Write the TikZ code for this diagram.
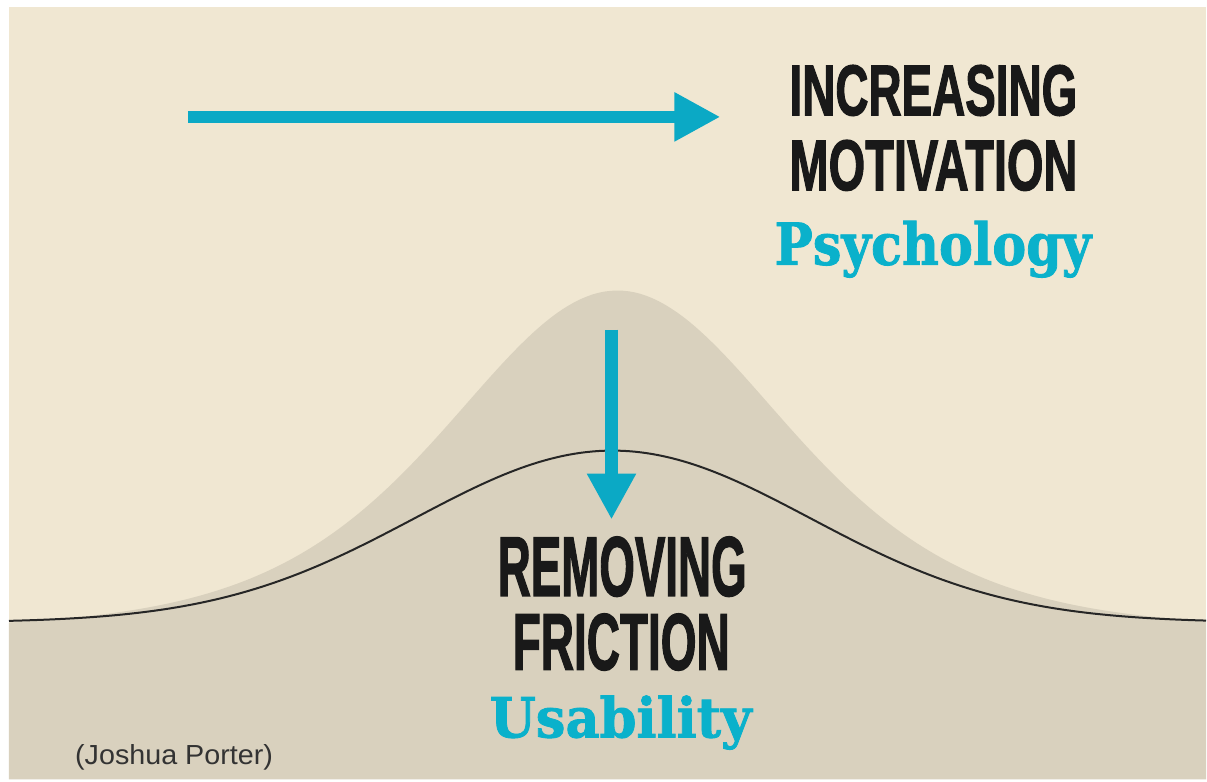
\documentclass[tikz,border=0pt]{standalone}
\usepackage{fontspec}
\usepackage{xcolor}
\usepackage{graphicx}
\usetikzlibrary{math,arrows.meta}
\newfontfamily\gothicfont[FakeBold=2]{Liberation Sans}
\newfontfamily\slabfont[FakeBold=1.5]{DejaVu Serif}
\newfontfamily\creditfont{Liberation Sans}
\definecolor{paper}{HTML}{F0E7D2}
\definecolor{sand}{HTML}{D9D1BE}
\definecolor{porterblue}{HTML}{0BA9C5}
\tikzset{
	headline/.style={inner sep=0pt,anchor=north west,text=black!90},
	tagline/.style={inner sep=0pt,anchor=base west,text=porterblue!90!cyan},
	bigarrow/.style={porterblue,-{Triangle[length=46pt,width=46pt]}},
}

\begin{document}
\begin{tikzpicture}[x=1pt,y=-1pt,
	declare function={tallbell(\t)=623-339*(1/(cosh((\t-618)/229))^2-0.0196);
		flatbell(\t)=623-172*exp(-((\t-613)/280)^2);}]
\tikzmath{
	\xl = 9;\xr = 1207;\yt = 7;\yb = 780;
	{\useasboundingbox (0,0) rectangle (1207,782);};
	{\fill[white] (0,0) rectangle (1207,782);};
	{\fill[paper] (\xl,\yt) rectangle (\xr,\yb);};
	% grey ground and the tall bell
	{\fill[sand] (\xl,\yb) -- plot[domain=\xl:\xr,samples=200] (\x,{tallbell(\x)}) -- (\xr,\yb) -- cycle;};
	{\draw[line width=2pt,black!85] plot[domain=\xl:\xr,samples=200] (\x,{flatbell(\x)});};
	%
	{\coordinate (ms) at (188,117);};
	{\coordinate (mt) at (721,117);};
	{\coordinate (fs) at (612,330);};
	{\coordinate (ft) at (612,520);};
	{\draw[bigarrow,line width=12pt] (ms) -- (mt);};
	{\draw[bigarrow,line width=14pt] (fs) -- (ft);};
	%
	{\node[headline] (incr) at (790,65) {\resizebox{288pt}{50pt}{\gothicfont\bfseries INCREASING}};};
	{\node[headline] (motiv) at (790,140) {\resizebox{288pt}{50pt}{\gothicfont\bfseries MOTIVATION}};};
	{\node[tagline] (psych) at (775,265) {\resizebox{317pt}{44pt}{\slabfont\bfseries Psychology}};};
	{\node[headline] (remov) at (498,537) {\resizebox{249pt}{59pt}{\gothicfont\bfseries REMOVING}};};
	{\node[headline] (frict) at (513,614) {\resizebox{217pt}{56pt}{\gothicfont\bfseries FRICTION}};};
	{\node[tagline] (usab) at (490,738) {\resizebox{262pt}{42pt}{\slabfont\bfseries Usability}};};
	{\node[inner sep=0pt,anchor=base west,text=black!80] (credit) at (75,765) {\resizebox{198pt}{20pt}{\creditfont (Joshua Porter)}};};
};
\end{tikzpicture}
\end{document}
